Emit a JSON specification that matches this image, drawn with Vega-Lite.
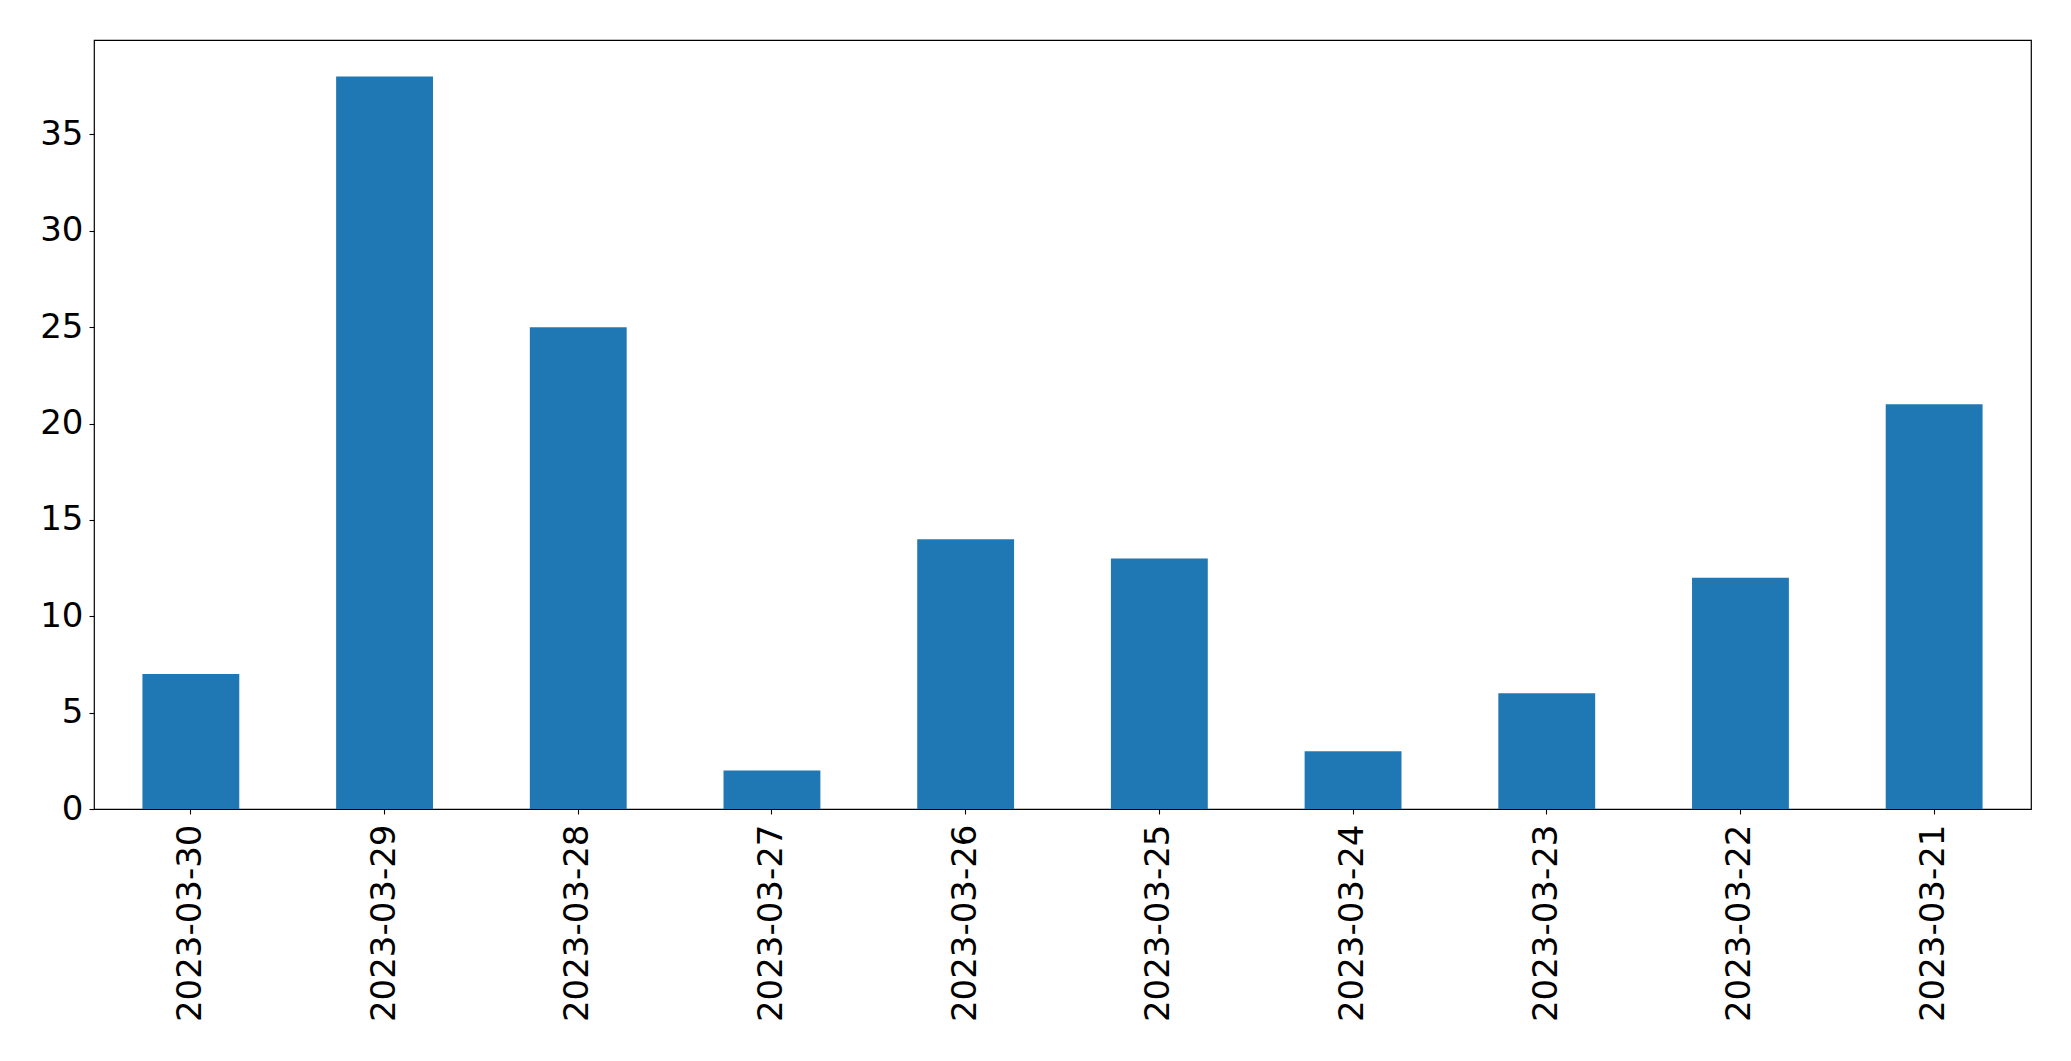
{
  "$schema": "https://vega.github.io/schema/vega-lite/v6.json",
  "autosize": {"type": "none"},
  "padding": {"left": 94, "top": 40, "right": 40, "bottom": 252},
  "width": 1937,
  "height": 769,
  "background": "white",
  "config": {
    "view": {"stroke": "black", "strokeWidth": 1.2},
    "axis": {
      "labelFont": "DejaVu Sans",
      "labelFontSize": 34,
      "labelColor": "black",
      "tickColor": "black",
      "tickSize": 5,
      "tickWidth": 1.1,
      "domain": false,
      "grid": false,
      "title": null,
      "labelLimit": 400
    }
  },
  "data": {
    "values": [
      {"date": "2023-03-30", "count": 7},
      {"date": "2023-03-29", "count": 38},
      {"date": "2023-03-28", "count": 25},
      {"date": "2023-03-27", "count": 2},
      {"date": "2023-03-26", "count": 14},
      {"date": "2023-03-25", "count": 13},
      {"date": "2023-03-24", "count": 3},
      {"date": "2023-03-23", "count": 6},
      {"date": "2023-03-22", "count": 12},
      {"date": "2023-03-21", "count": 21}
    ]
  },
  "mark": {"type": "bar", "color": "#1f77b4"},
  "encoding": {
    "x": {
      "field": "date",
      "type": "nominal",
      "sort": null,
      "scale": {"paddingInner": 0.5, "paddingOuter": 0.25},
      "axis": {"labelAngle": -90, "labelPadding": 10, "labelBaseline": "middle", "labelAlign": "right"}
    },
    "y": {
      "field": "count",
      "type": "quantitative",
      "scale": {"domain": [0, 39.9], "nice": false, "zero": true},
      "axis": {"values": [0, 5, 10, 15, 20, 25, 30, 35], "labelPadding": 6}
    }
  }
}
